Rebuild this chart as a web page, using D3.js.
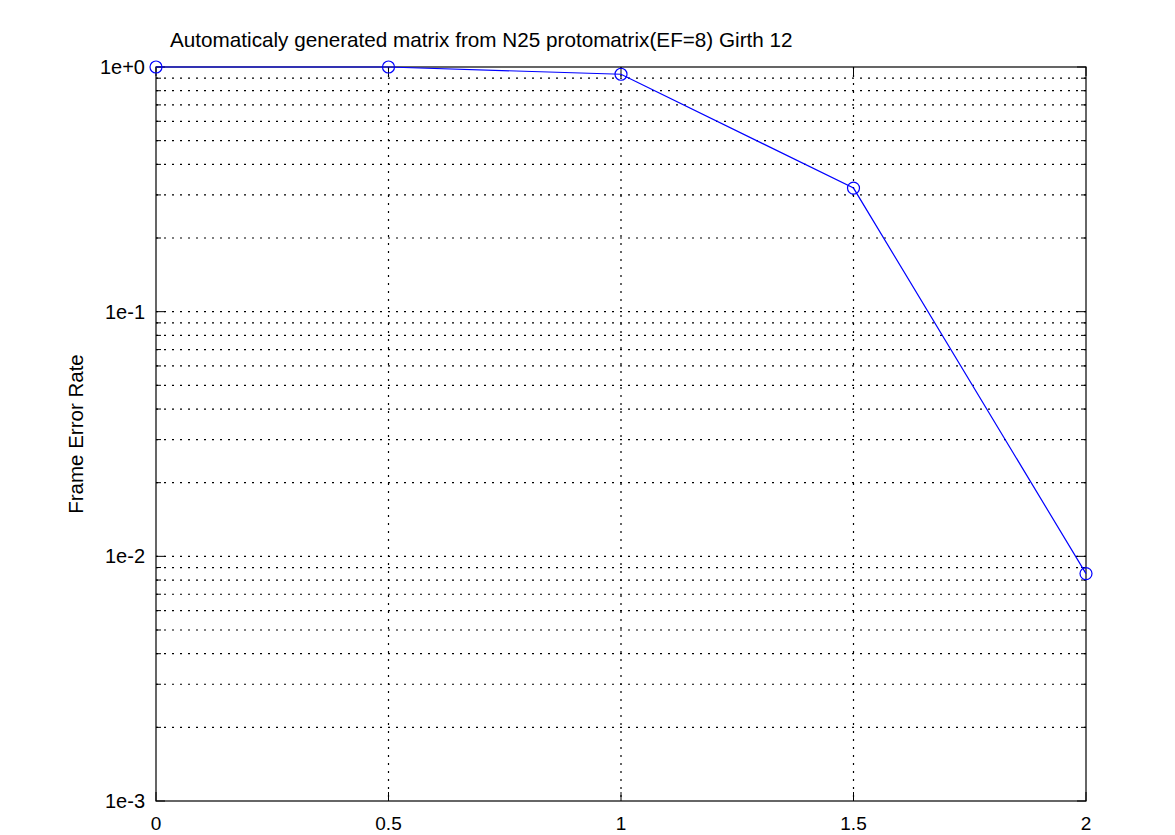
<!DOCTYPE html>
<html>
<head>
<meta charset="utf-8">
<script src="https://cdn.jsdelivr.net/npm/d3@7"></script>
<style>
  body { margin: 0; background: #fff; }
  text { font-family: "Liberation Sans", Arial, sans-serif; fill: #000; }
</style>
</head>
<body>
<script>
// data
var snr = [0, 0.5, 1, 1.5, 2];
var fer = [1.0, 1.0, 0.934, 0.32, 0.0085];
var xTicks = [0, 0.5, 1, 1.5, 2];
var xTickLabels = ["0", "0.5", "1", "1.5", "2"];
var yDecades = [1e-3, 1e-2, 1e-1, 1e0];
var yTickLabels = ["1e-3", "1e-2", "1e-1", "1e+0"];
var titleText = "Automaticaly generated matrix from N25 protomatrix(EF=8) Girth 12";
var yLabelText = "Frame Error Rate";

var totalWidth = 1175,
	totalHeight = 835,
	margin = {top: 67, right: 89, bottom: 34, left: 156},
	dataWidth = totalWidth - margin.left - margin.right,
	dataHeight = totalHeight - margin.top - margin.bottom;

var xScale = d3.scaleLinear().domain([0, 2]).range([0, dataWidth]);
var yScale = d3.scaleLog().domain([1e-3, 1]).range([dataHeight, 0]);

// minor grid values 2..9 per decade
var minorVals = [];
yDecades.slice(0, 3).forEach(function(d) {
	for (var k = 2; k <= 9; k++) minorVals.push(d * k);
});

var svg = d3.select("body").append("svg")
	.attr("width", totalWidth)
	.attr("height", totalHeight);

var g = svg.append("g")
	.attr("transform", "translate(" + margin.left + "," + margin.top + ")");

// horizontal grid (major + minor)
g.append("g").selectAll("line")
	.data(minorVals.concat(yDecades.slice(1, 3)))
	.enter().append("line")
	.attr("x1", 0).attr("x2", dataWidth)
	.attr("y1", d => yScale(d)).attr("y2", d => yScale(d))
	.style("stroke", "#000")
	.style("stroke-width", 1.2)
	.style("stroke-dasharray", "2,6");

// vertical grid
g.append("g").selectAll("line")
	.data(xTicks.slice(1, 4))
	.enter().append("line")
	.attr("x1", d => xScale(d)).attr("x2", d => xScale(d))
	.attr("y1", 0).attr("y2", dataHeight)
	.style("stroke", "#000")
	.style("stroke-width", 1.2)
	.style("stroke-dasharray", "2,6");

// y ticks, inward on both sides
var yTickData = yDecades.map(d => ({v: d, len: 9})).concat(minorVals.map(d => ({v: d, len: 5})));
[0, dataWidth].forEach(function(x0, i) {
	g.append("g").selectAll("line")
		.data(yTickData)
		.enter().append("line")
		.attr("x1", x0).attr("x2", d => i == 0 ? x0 + d.len : x0 - d.len)
		.attr("y1", d => yScale(d.v)).attr("y2", d => yScale(d.v))
		.style("stroke", "#000");
});

// x ticks, inward on top and bottom
[0, dataHeight].forEach(function(y0, i) {
	g.append("g").selectAll("line")
		.data(xTicks)
		.enter().append("line")
		.attr("x1", d => xScale(d)).attr("x2", d => xScale(d))
		.attr("y1", y0).attr("y2", i == 0 ? y0 + 9 : y0 - 9)
		.style("stroke", "#000");
});

// frame
g.append("rect")
	.attr("width", dataWidth).attr("height", dataHeight)
	.style("fill", "none").style("stroke", "#000").style("stroke-width", 1.2);

// y tick labels
g.append("g").selectAll("text")
	.data(yDecades)
	.enter().append("text")
	.attr("x", -11)
	.attr("y", d => yScale(d))
	.attr("dy", "0.35em")
	.attr("text-anchor", "end")
	.style("font-size", "20px")
	.text((d, i) => yTickLabels[i]);

// x tick labels
g.append("g").selectAll("text")
	.data(xTicks)
	.enter().append("text")
	.attr("x", d => xScale(d))
	.attr("y", dataHeight + 29)
	.attr("text-anchor", "middle")
	.style("font-size", "19px")
	.text((d, i) => xTickLabels[i]);

// series line
var line = d3.line()
	.x(d => xScale(d[0]))
	.y(d => yScale(d[1]));

var pts = snr.map((s, i) => [s, fer[i]]);

g.append("path")
	.datum(pts)
	.attr("d", line)
	.style("fill", "none")
	.style("stroke", "#0000ff")
	.style("stroke-width", 1.2);

g.append("g").selectAll("circle")
	.data(pts)
	.enter().append("circle")
	.attr("cx", d => xScale(d[0]))
	.attr("cy", d => yScale(d[1]))
	.attr("r", 6)
	.style("fill", "none")
	.style("stroke", "#0000ff")
	.style("stroke-width", 1.2);

// title and y label
svg.append("text")
	.attr("x", 170).attr("y", 47)
	.style("font-size", "20.7px")
	.text(titleText);

svg.append("text")
	.attr("transform", "translate(83," + (margin.top + dataHeight / 2) + ") rotate(-90)")
	.attr("text-anchor", "middle")
	.style("font-size", "20.5px")
	.text(yLabelText);
</script>
</body>
</html>
